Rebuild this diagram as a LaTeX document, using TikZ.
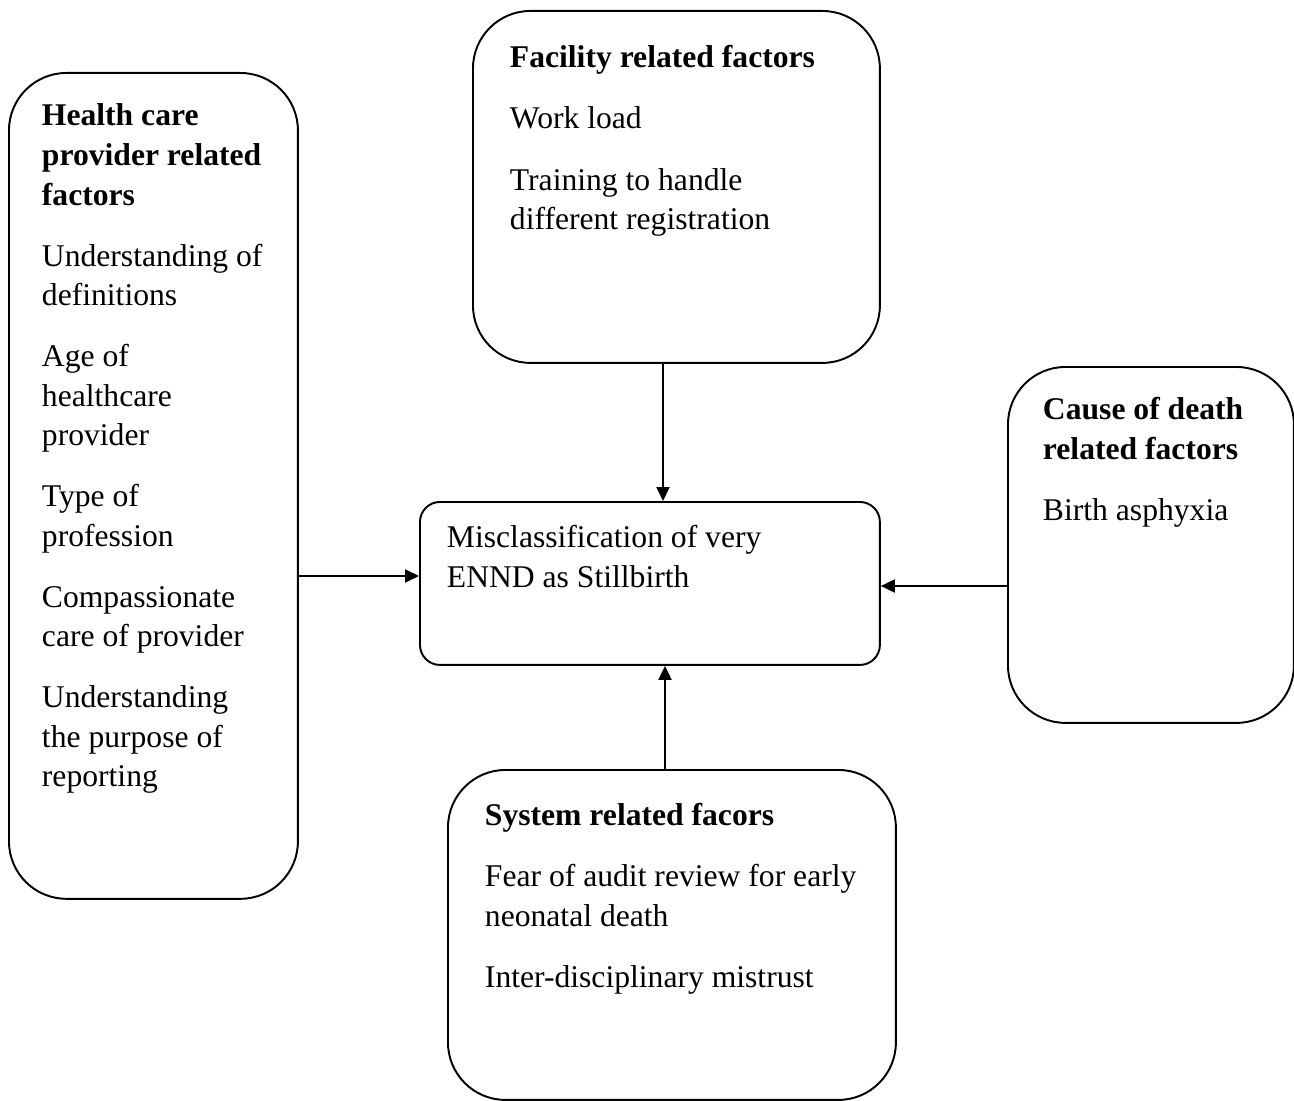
\documentclass[tikz,border=0pt]{standalone}
\usepackage{fontspec}
\setmainfont{Liberation Serif}
\usetikzlibrary{arrows.meta}

\begin{document}
\begin{tikzpicture}[x=0.02cm,y=-0.02cm,line width=1.1pt,
    >={Triangle[length=0.28cm,width=0.26cm]},
    factorbox/.style={draw, rounded corners=1.15cm, anchor=north west, inner sep=0pt},
    boxtext/.style={anchor=north west, inner sep=0pt, align=left,
        font=\fontsize{18pt}{22.5pt}\selectfont},
    flow/.style={->}]
    \useasboundingbox (0,0) rectangle (1294,1101);

    % boxes
    \node[factorbox, minimum width=5.78cm, minimum height=16.52cm] (provider) at (8,72) {};
    \node[factorbox, minimum width=8.14cm, minimum height=7.04cm] (facility) at (472,10) {};
    \node[factorbox, minimum width=5.72cm, minimum height=7.12cm] (cause) at (1007,366) {};
    \node[factorbox, minimum width=8.96cm, minimum height=6.6cm] (system) at (447,769) {};
    \node[factorbox, rounded corners=0.4cm, minimum width=9.2cm, minimum height=3.26cm] (outcome) at (419,501) {};

    % texts
    \node[boxtext] (providertext) at (41,100) {\rule{0pt}{0.5cm}\textbf{Health care}\\
        \textbf{provider related}\\ \textbf{factors}\\[0.43cm]
        Understanding of\\ definitions\\[0.43cm]
        Age of\\ healthcare\\ provider\\[0.43cm]
        Type of\\ profession\\[0.43cm]
        Compassionate\\ care of provider\\[0.43cm]
        Understanding\\ the purpose of\\ reporting};
    \node[boxtext] (facilitytext) at (509,42) {\rule{0pt}{0.5cm}\textbf{Facility related factors}\\[0.43cm]
        Work load\\[0.43cm]
        Training to handle\\ different registration};
    \node[boxtext] (causetext) at (1042,394) {\rule{0pt}{0.5cm}\textbf{Cause of death}\\
        \textbf{related factors}\\[0.43cm]
        Birth asphyxia};
    \node[boxtext] (systemtext) at (484,800) {\rule{0pt}{0.5cm}\textbf{System related facors}\\[0.43cm]
        Fear of audit review for early\\ neonatal death\\[0.43cm]
        Inter-disciplinary mistrust};
    \node[boxtext] (outcometext) at (446,522) {\rule{0pt}{0.5cm}Misclassification of very\\
        ENND as Stillbirth};

    % arrows
    \draw[flow] (provider.east |- 0,576) -- (outcome.west |- 0,576);
    \draw[flow] (facility.south -| 663,0) -- (outcome.north -| 663,0);
    \draw[flow] (cause.west |- 0,586) -- (outcome.east |- 0,586);
    \draw[flow] (system.north -| 665,0) -- (outcome.south -| 665,0);
\end{tikzpicture}
\end{document}
